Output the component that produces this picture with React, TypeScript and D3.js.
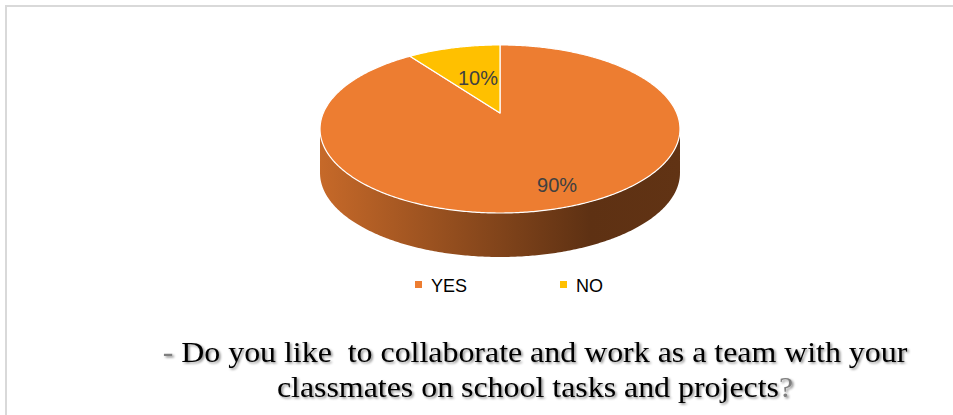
import React from "react";
import * as d3 from "d3";

const categories = ["YES", "NO"];
const values = [90, 10];
const colors = ["#ED7D31", "#FFC000"];
const titleLine1 = ["- ", "Do you like  to collaborate and work as a team with your", ""];
const titleLine2 = ["", "classmates on school tasks and projects", "?"];

const W = 953;
const H = 415;

// perspective pie geometry
const CX = 500;
const CY = 113;
const A = 176.7;
const B = 81;
const P = 0.19;
const DEPTH = 44;

function proj(theta: number, r = 1, dy = 0): [number, number] {
  const X = Math.sin(theta) * r;
  const Z = Math.cos(theta) * r;
  const den = 1 + P * Z;
  return [CX + (A * X) / den, CY - (B * Z) / den + dy];
}

function arcPts(a0: number, a1: number, dy = 0): [number, number][] {
  const n = Math.max(2, Math.ceil(Math.abs(a1 - a0) / 0.01));
  const pts: [number, number][] = [];
  for (let i = 0; i <= n; i++) pts.push(proj(a0 + ((a1 - a0) * i) / n, 1, dy));
  return pts;
}

export default function App() {
  const total = d3.sum(values);
  const pie = d3
    .pie<number>()
    .sort(null)
    .value((d) => d)
    .startAngle(0)
    .endAngle(2 * Math.PI);
  const arcs = pie(values);

  // silhouette angles (max / min x)
  let thR = 0, thL = 0, maxX = -Infinity, minX = Infinity;
  for (let t = 0; t < 2 * Math.PI; t += 0.001) {
    const [x] = proj(t);
    if (x > maxX) { maxX = x; thR = t; }
    if (x < minX) { minX = x; thL = t; }
  }

  const line = d3.line();

  const sides = arcs.map((a, i) => {
    const s = Math.max(a.startAngle, thR);
    const e = Math.min(a.endAngle, thL);
    if (e <= s) return null;
    const top = arcPts(s, e);
    const bot = arcPts(e, s, DEPTH);
    return (
      <path
        key={"side" + i}
        d={line([...top, ...bot]) + "Z"}
        fill={`url(#sideGrad${i})`}
      />
    );
  });

  const tops = arcs.map((a, i) => {
    const pts = [[CX, CY] as [number, number], ...arcPts(a.startAngle, a.endAngle)];
    return (
      <path
        key={"top" + i}
        d={line(pts) + "Z"}
        fill={colors[i]}
        stroke="#fff"
        strokeWidth={1.2}
        strokeLinejoin="round"
      />
    );
  });

  const labels = arcs.map((a, i) => {
    const mid = (a.startAngle + a.endAngle) / 2;
    const frac = a.value / total;
    const r = frac < 0.25 ? 0.5 : 0.8;
    const [x, y] = proj(mid, r);
    return (
      <text
        key={"lab" + i}
        x={x + (frac < 0.25 ? 3 : 6)}
        y={y + 7}
        textAnchor="middle"
        fontFamily="'Liberation Sans', Arial, sans-serif"
        fontSize={20}
        fill="#404040"
      >
        {Math.round(frac * 100) + "%"}
      </text>
    );
  });

  const legendX0 = 415;
  const legendStep = 145;

  return (
    <svg
      width={W}
      height={H}
      style={{ position: "absolute", left: 0, top: 0, background: "#fff" }}
    >
      <defs>
        {colors.map((c, i) => {
          const col = d3.color(c)!;
          return (
            <linearGradient
              key={i}
              id={`sideGrad${i}`}
              gradientUnits="userSpaceOnUse"
              x1={minX}
              x2={maxX}
              y1={0}
              y2={0}
            >
              <stop offset="0" stopColor={col.darker(0.5).formatHex()} />
              <stop offset="0.75" stopColor={col.darker(2.6).formatHex()} />
              <stop offset="1" stopColor={col.darker(2.5).formatHex()} />
            </linearGradient>
          );
        })}
        <filter id="shadow" x="-5%" y="-30%" width="110%" height="160%">
          <feDropShadow dx={1.5} dy={1.5} stdDeviation={1} floodColor="#000" floodOpacity={0.45} />
        </filter>
      </defs>
      <rect x={6} y={6} width={960} height={420} fill="#fff" stroke="#d9d9d9" strokeWidth={2} />
      {sides}
      {tops}
      {labels}
      {categories.map((c, i) => (
        <g key={c} transform={`translate(${legendX0 + i * legendStep},0)`}>
          <rect x={0} y={281} width={7} height={7} fill={colors[i]} />
          <text
            x={16}
            y={292}
            fontFamily="'Liberation Sans', Arial, sans-serif"
            fontSize={18}
            fill="#000"
          >
            {c}
          </text>
        </g>
      ))}
      <g
        transform="translate(535,0) scale(1.1,1)"
        fontFamily="'Liberation Serif', 'Times New Roman', serif"
        fontSize={29}
        textAnchor="middle"
        filter="url(#shadow)"
      >
        <text x={0} y={362} xmlSpace="preserve" style={{ whiteSpace: "pre" }}>
          <tspan fill="#7f7f7f">{titleLine1[0]}</tspan>
          <tspan fill="#000">{titleLine1[1]}</tspan>
          <tspan fill="#7f7f7f">{titleLine1[2]}</tspan>
        </text>
        <text x={0} y={397} xmlSpace="preserve" style={{ whiteSpace: "pre" }}>
          <tspan fill="#7f7f7f">{titleLine2[0]}</tspan>
          <tspan fill="#000">{titleLine2[1]}</tspan>
          <tspan fill="#7f7f7f">{titleLine2[2]}</tspan>
        </text>
      </g>
    </svg>
  );
}
